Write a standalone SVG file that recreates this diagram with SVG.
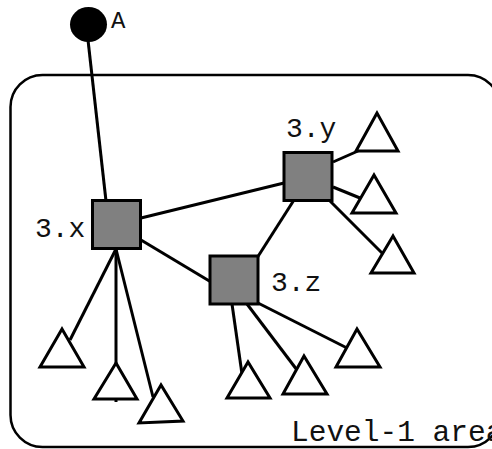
<svg xmlns="http://www.w3.org/2000/svg" width="492" height="449" viewBox="0 0 492 449">
<style>
.e{stroke:#000;stroke-width:3;fill:none}
.sq{fill:#808080;stroke:#000;stroke-width:3}
.tri{fill:#fff;stroke:#000;stroke-width:3;stroke-linejoin:miter}
.t{font-family:"Liberation Mono","Courier New",monospace;font-size:28px;fill:#111}
</style>
<rect x="10.5" y="75" width="489.5" height="372" rx="32" ry="32" fill="none" stroke="#000" stroke-width="2.5"/>
<g id="connectors">
<line class="e" x1="88" y1="40" x2="106" y2="201"/>
<line class="e" x1="141" y1="218" x2="284" y2="183"/>
<line class="e" x1="141" y1="240" x2="211" y2="282"/>
<line class="e" x1="294" y1="200" x2="257" y2="258"/>
<line class="e" x1="333" y1="162" x2="358" y2="151"/>
<line class="e" x1="333" y1="187" x2="360" y2="198"/>
<line class="e" x1="330" y1="201" x2="383" y2="254"/>
<line class="e" x1="116" y1="249" x2="70" y2="340"/>
<line class="e" x1="116" y1="249" x2="116" y2="402"/>
<line class="e" x1="116" y1="249" x2="153" y2="397"/>
<line class="e" x1="232" y1="304" x2="242" y2="374"/>
<line class="e" x1="247" y1="304" x2="297" y2="370"/>
<line class="e" x1="258" y1="303" x2="347" y2="348"/>
</g>
<g id="A">
<ellipse cx="88.5" cy="24.5" rx="18.5" ry="17.5" fill="#000"/>
<text class="t" x="111" y="28" style="font-size:24px">A</text>
</g>
<g id="n3x">
<rect class="sq" x="92.5" y="200.5" width="48" height="48"/>
<text class="t" x="35" y="237">3.x</text>
</g>
<g id="n3y">
<rect class="sq" x="284" y="152.5" width="48" height="48"/>
<text class="t" x="286" y="137">3.y</text>
</g>
<g id="n3z">
<rect class="sq" x="210" y="256" width="48" height="48"/>
<text class="t" x="271" y="291">3.z</text>
</g>
<g id="t1"><polygon class="tri" points="377,113 356,151 398,151"/></g>
<g id="t2"><polygon class="tri" points="374,175 352,213 396,213"/></g>
<g id="t3"><polygon class="tri" points="393,236 371,273 414,273"/></g>
<g id="t4"><polygon class="tri" points="62,329 40,367 84,367"/></g>
<g id="t5"><polygon class="tri" points="116,363 94,399 137,399"/></g>
<g id="t6"><polygon class="tri" points="161,385 139,423 183,421"/></g>
<g id="t7"><polygon class="tri" points="248,362 227,398 270,398"/></g>
<g id="t8"><polygon class="tri" points="304,356 283,394 327,394"/></g>
<g id="t9"><polygon class="tri" points="357,329 336,367 380,367"/></g>
<g id="label">
<text class="t" x="291" y="441" style="font-size:29.5px">Level-1 area</text>
</g>
</svg>
